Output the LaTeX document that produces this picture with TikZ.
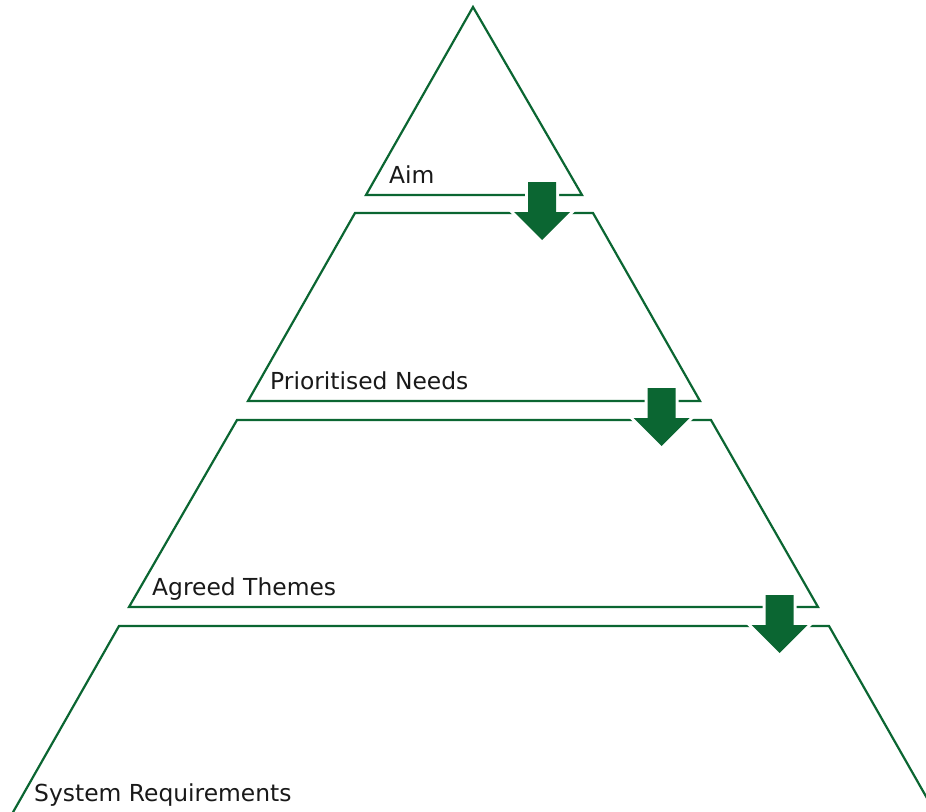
\documentclass[tikz,border=0pt]{standalone}
\usepackage{fontspec}
\setmainfont{DejaVu Sans}
\begin{document}
\begin{tikzpicture}[x=1pt,y=-1pt,
  tier/.style={draw=pyrgreen,line width=2.2pt,line join=miter},
  label/.style={anchor=base west,inner sep=0pt,font=\fontsize{23.4}{28}\selectfont,text=black!90},
  halo/.style={draw=white,line width=6pt,line join=miter},
  flow/.style={fill=pyrgreen},
  pics/downarrow/.style={code={
    \path[halo] (-14,0) -- (14,0) -- (14,30) -- (28,30) -- (0,58) -- (-28,30) -- (-14,30) -- cycle;
    \path[flow] (-14,0) -- (14,0) -- (14,30) -- (28,30) -- (0,58) -- (-28,30) -- (-14,30) -- cycle;
  }}]
\definecolor{pyrgreen}{RGB}{11,102,50}
\useasboundingbox (0,0) rectangle (926,811);
\clip (0,0) rectangle (926,811);

% tier outlines
\draw[tier] (473,7) -- (582,195) -- (366,195) -- cycle;
\draw[tier] (355,213) -- (593,213) -- (700,401) -- (248,401) -- cycle;
\draw[tier] (237,420) -- (711,420) -- (818,607) -- (129,607) -- cycle;
\draw[tier] (119,626) -- (829,626) -- (940,821) -- (8,821) -- cycle;

% tier labels
\node[label] (aim)   at (389,183) {Aim};
\node[label] (needs) at (270,389) {Prioritised Needs};
\node[label] (themes) at (152,595) {Agreed Themes};
\node[label] (reqs)  at (34,801) {System Requirements};

% flow arrows between tiers
\pic at (542,182) {downarrow};
\pic at (661.5,388) {downarrow};
\pic at (779.5,595) {downarrow};
\end{tikzpicture}
\end{document}
